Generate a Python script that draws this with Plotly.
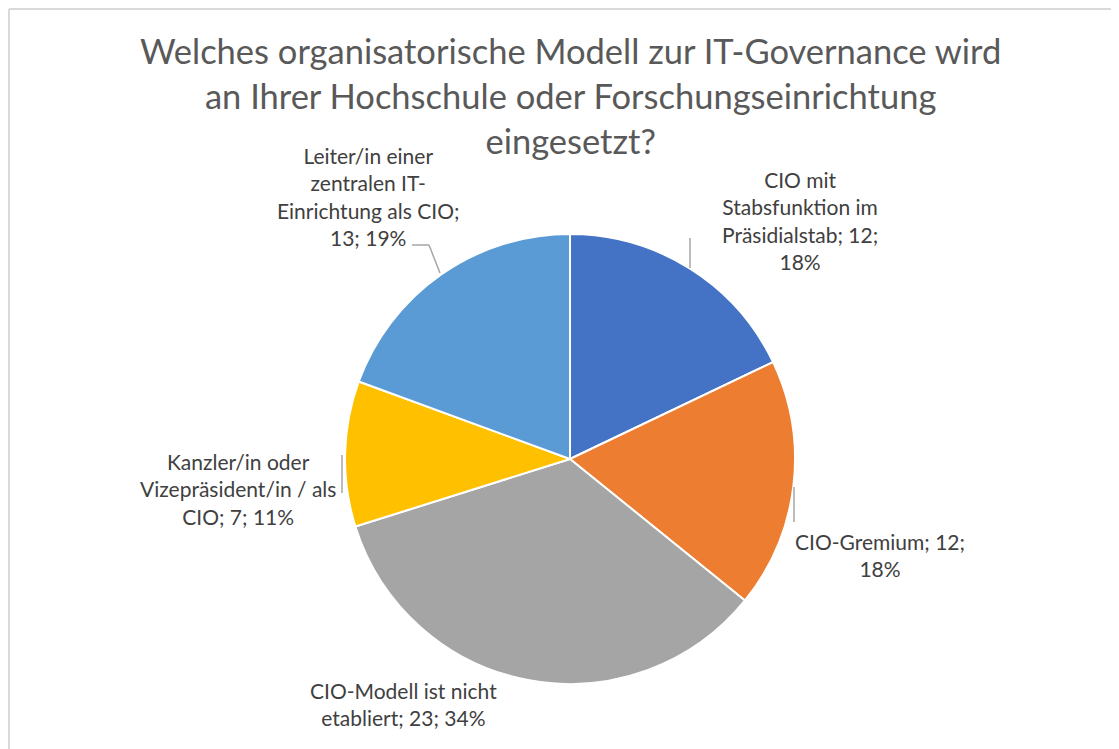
import textwrap
import plotly.graph_objects as go

# ---- data ----
categories = [
    "CIO mit Stabsfunktion im Präsidialstab",
    "CIO-Gremium",
    "CIO-Modell ist nicht etabliert",
    "Kanzler/in oder Vizepräsident/in / als CIO",
    "Leiter/in einer zentralen IT-Einrichtung als CIO",
]
values = [12, 12, 23, 7, 13]
pct_labels = ["18%", "18%", "34%", "11%", "19%"]
colors = ["#4472C4", "#ED7D31", "#A5A5A5", "#FFC000", "#5B9BD5"]
title_text = ("Welches organisatorische Modell zur IT-Governance wird<br>"
              "an Ihrer Hochschule oder Forschungseinrichtung<br>eingesetzt?")

# ---- layout constants (pixels) ----
W, H = 1119, 749
OFF = 8  # page body margin
wrap_widths = [18, 16, 20, 22, 20]
label_pos = [(800, 220), (880, 555), (403, 704), (238, 489), (368, 196)]
leader_lines = [
    [(690, 238), (690, 268)],
    [(794, 487), (794, 522)],
    [],
    [(342, 455), (342, 493)],
    [(412, 245), (429, 245), (440, 273)],
]

def px(x):
    return (x - OFF) / W

def py(y):
    return 1 - (y - OFF) / H

fig = go.Figure(go.Pie(
    labels=categories,
    values=values,
    sort=False,
    direction="clockwise",
    rotation=0,
    marker=dict(colors=colors, line=dict(color="white", width=2)),
    textinfo="none",
    showlegend=False,
    domain=dict(x=[px(345), px(795)], y=[py(684), py(234)]),
))

annotations = []
for cat, v, p, w, (lx, ly) in zip(categories, values, pct_labels, wrap_widths, label_pos):
    txt = "<br>".join(textwrap.wrap(f"{cat}; {v}; {p}", width=w))
    annotations.append(dict(
        x=px(lx), y=py(ly), xref="paper", yref="paper",
        text=txt, showarrow=False, align="center",
        xanchor="center", yanchor="middle",
        font=dict(family="Lato", size=21, color="#404040"),
    ))

annotations.append(dict(
    x=px(570), y=py(96), xref="paper", yref="paper",
    text=title_text, showarrow=False, align="center",
    xanchor="center", yanchor="middle",
    font=dict(family="Lato", size=34.5, color="#595959"),
))

shapes = []
for pts in leader_lines:
    for (x0, y0), (x1, y1) in zip(pts[:-1], pts[1:]):
        shapes.append(dict(type="line", xref="paper", yref="paper",
                           x0=px(x0), y0=py(y0), x1=px(x1), y1=py(y1),
                           line=dict(color="#A6A6A6", width=1.5)))
# chart border
shapes.append(dict(type="line", xref="paper", yref="paper",
                   x0=px(9), y0=py(9), x1=px(W + OFF), y1=py(9),
                   line=dict(color="#D9D9D9", width=2)))
shapes.append(dict(type="line", xref="paper", yref="paper",
                   x0=px(9), y0=py(9), x1=px(9), y1=py(H + OFF),
                   line=dict(color="#D9D9D9", width=2)))

fig.update_layout(
    width=W, height=H,
    margin=dict(l=0, r=0, t=0, b=0),
    paper_bgcolor="white", plot_bgcolor="white",
    annotations=annotations,
    shapes=shapes,
)

fig.write_html("out.html")
